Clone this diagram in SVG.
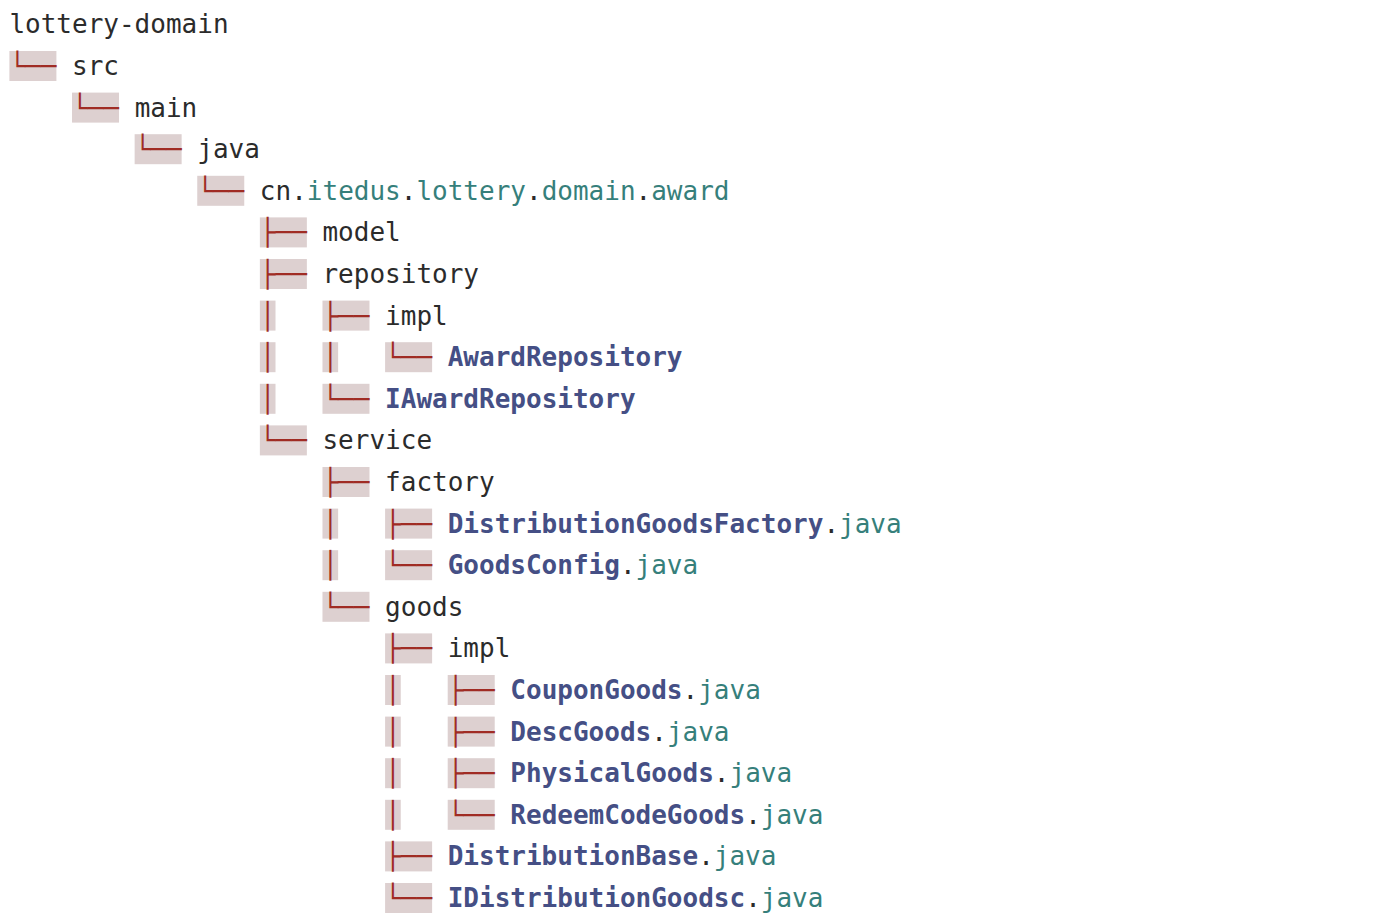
<svg xmlns="http://www.w3.org/2000/svg" width="1382" height="920" viewBox="0 0 1382 920">
<style>
text{font-family:"DejaVu Sans Mono","Liberation Mono",monospace;font-size:26px;fill:#2b2b2b}
.hl{fill:#ddd0d0}
.tr{fill:#a02c24}
.t{fill:#367f7b}
.b{fill:#454f85;font-weight:bold}
</style>
<rect width="1382" height="920" fill="#ffffff"/>
<g id="connectors">
<rect class="hl" x="9.4" y="51" width="47" height="30"/><text class="tr" x="9.4" y="75">└──</text>
<rect class="hl" x="72.02" y="92.6" width="47" height="30"/><text class="tr" x="72.02" y="116.6">└──</text>
<rect class="hl" x="134.63" y="134.2" width="47" height="30"/><text class="tr" x="134.63" y="158.2">└──</text>
<rect class="hl" x="197.25" y="175.8" width="47" height="30"/><text class="tr" x="197.25" y="199.8">└──</text>
<rect class="hl" x="259.86" y="217.4" width="47" height="30"/><text class="tr" x="259.86" y="241.4">├──</text>
<rect class="hl" x="259.86" y="259" width="47" height="30"/><text class="tr" x="259.86" y="283">├──</text>
<rect class="hl" x="259.86" y="300.6" width="15.65" height="30"/><text class="tr" x="259.86" y="324.6">│</text>
<rect class="hl" x="322.48" y="300.6" width="47" height="30"/><text class="tr" x="322.48" y="324.6">├──</text>
<rect class="hl" x="259.86" y="342.2" width="15.65" height="30"/><text class="tr" x="259.86" y="366.2">│</text>
<rect class="hl" x="322.48" y="342.2" width="15.65" height="30"/><text class="tr" x="322.48" y="366.2">│</text>
<rect class="hl" x="385.1" y="342.2" width="47" height="30"/><text class="tr" x="385.1" y="366.2">└──</text>
<rect class="hl" x="259.86" y="383.8" width="15.65" height="30"/><text class="tr" x="259.86" y="407.8">│</text>
<rect class="hl" x="322.48" y="383.8" width="47" height="30"/><text class="tr" x="322.48" y="407.8">└──</text>
<rect class="hl" x="259.86" y="425.4" width="47" height="30"/><text class="tr" x="259.86" y="449.4">└──</text>
<rect class="hl" x="322.48" y="467" width="47" height="30"/><text class="tr" x="322.48" y="491">├──</text>
<rect class="hl" x="322.48" y="508.6" width="15.65" height="30"/><text class="tr" x="322.48" y="532.6">│</text>
<rect class="hl" x="385.1" y="508.6" width="47" height="30"/><text class="tr" x="385.1" y="532.6">├──</text>
<rect class="hl" x="322.48" y="550.2" width="15.65" height="30"/><text class="tr" x="322.48" y="574.2">│</text>
<rect class="hl" x="385.1" y="550.2" width="47" height="30"/><text class="tr" x="385.1" y="574.2">└──</text>
<rect class="hl" x="322.48" y="591.8" width="47" height="30"/><text class="tr" x="322.48" y="615.8">└──</text>
<rect class="hl" x="385.1" y="633.4" width="47" height="30"/><text class="tr" x="385.1" y="657.4">├──</text>
<rect class="hl" x="385.1" y="675" width="15.65" height="30"/><text class="tr" x="385.1" y="699">│</text>
<rect class="hl" x="447.71" y="675" width="47" height="30"/><text class="tr" x="447.71" y="699">├──</text>
<rect class="hl" x="385.1" y="716.6" width="15.65" height="30"/><text class="tr" x="385.1" y="740.6">│</text>
<rect class="hl" x="447.71" y="716.6" width="47" height="30"/><text class="tr" x="447.71" y="740.6">├──</text>
<rect class="hl" x="385.1" y="758.2" width="15.65" height="30"/><text class="tr" x="385.1" y="782.2">│</text>
<rect class="hl" x="447.71" y="758.2" width="47" height="30"/><text class="tr" x="447.71" y="782.2">├──</text>
<rect class="hl" x="385.1" y="799.8" width="15.65" height="30"/><text class="tr" x="385.1" y="823.8">│</text>
<rect class="hl" x="447.71" y="799.8" width="47" height="30"/><text class="tr" x="447.71" y="823.8">└──</text>
<rect class="hl" x="385.1" y="841.4" width="47" height="30"/><text class="tr" x="385.1" y="865.4">├──</text>
<rect class="hl" x="385.1" y="883" width="47" height="30"/><text class="tr" x="385.1" y="907">└──</text>
</g>
<g id="n-lottery-domain"><text x="9.4" y="33.4">lottery-domain</text></g>
<g id="n-src"><text x="72.02" y="75">src</text></g>
<g id="n-main"><text x="134.63" y="116.6">main</text></g>
<g id="n-java"><text x="197.25" y="158.2">java</text></g>
<g id="n-package"><text x="259.86" y="199.8">cn.<tspan class="t">itedus</tspan>.<tspan class="t">lottery</tspan>.<tspan class="t">domain</tspan>.<tspan class="t">award</tspan></text></g>
<g id="n-model"><text x="322.48" y="241.4">model</text></g>
<g id="n-repository"><text x="322.48" y="283">repository</text></g>
<g id="n-repo-impl"><text x="385.1" y="324.6">impl</text></g>
<g id="n-AwardRepository"><text class="b" x="447.71" y="366.2">AwardRepository</text></g>
<g id="n-IAwardRepository"><text class="b" x="385.1" y="407.8">IAwardRepository</text></g>
<g id="n-service"><text x="322.48" y="449.4">service</text></g>
<g id="n-factory"><text x="385.1" y="491">factory</text></g>
<g id="n-DistributionGoodsFactory"><text x="447.71" y="532.6"><tspan class="b">DistributionGoodsFactory</tspan>.<tspan class="t">java</tspan></text></g>
<g id="n-GoodsConfig"><text x="447.71" y="574.2"><tspan class="b">GoodsConfig</tspan>.<tspan class="t">java</tspan></text></g>
<g id="n-goods"><text x="385.1" y="615.8">goods</text></g>
<g id="n-goods-impl"><text x="447.71" y="657.4">impl</text></g>
<g id="n-CouponGoods"><text x="510.33" y="699"><tspan class="b">CouponGoods</tspan>.<tspan class="t">java</tspan></text></g>
<g id="n-DescGoods"><text x="510.33" y="740.6"><tspan class="b">DescGoods</tspan>.<tspan class="t">java</tspan></text></g>
<g id="n-PhysicalGoods"><text x="510.33" y="782.2"><tspan class="b">PhysicalGoods</tspan>.<tspan class="t">java</tspan></text></g>
<g id="n-RedeemCodeGoods"><text x="510.33" y="823.8"><tspan class="b">RedeemCodeGoods</tspan>.<tspan class="t">java</tspan></text></g>
<g id="n-DistributionBase"><text x="447.71" y="865.4"><tspan class="b">DistributionBase</tspan>.<tspan class="t">java</tspan></text></g>
<g id="n-IDistributionGoodsc"><text x="447.71" y="907"><tspan class="b">IDistributionGoodsc</tspan>.<tspan class="t">java</tspan></text></g>
</svg>
